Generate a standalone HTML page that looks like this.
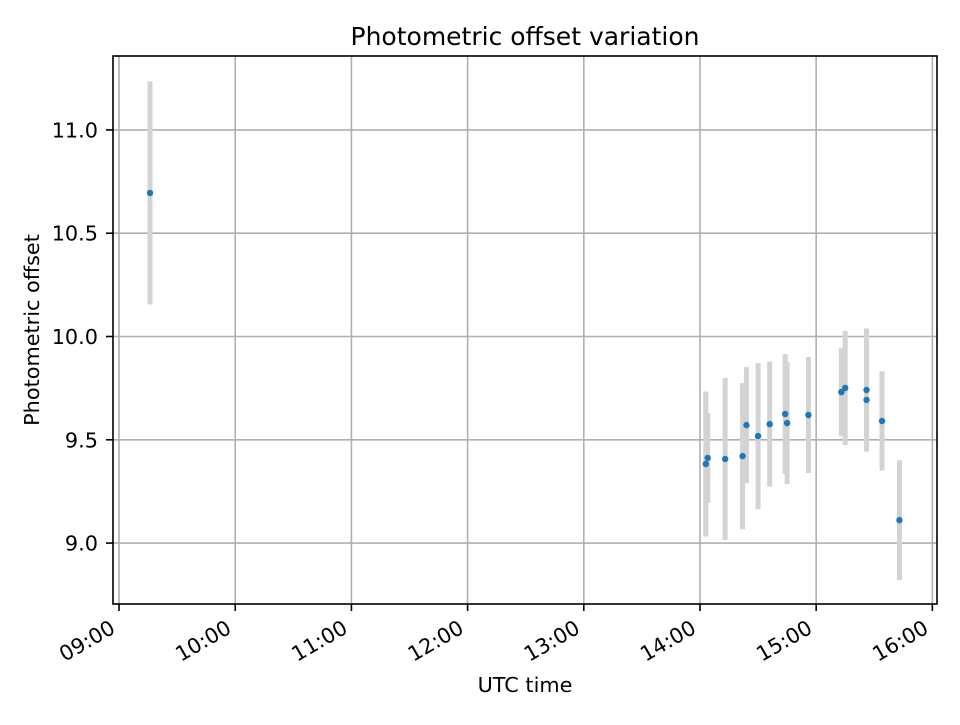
<!DOCTYPE html>
<html><head><meta charset="utf-8"><style>
body{margin:0;background:#fff}
svg text{font-family:"DejaVu Sans","Liberation Sans",sans-serif;fill:#000}
</style></head><body>
<svg id="chart" width="960" height="720" xmlns="http://www.w3.org/2000/svg">
<text x="525" y="45" text-anchor="middle" font-size="25">Photometric offset variation</text>
<text x="525" y="692" text-anchor="middle" font-size="20.8">UTC time</text>
<text transform="translate(39,330) rotate(-90)" text-anchor="middle" font-size="20.8">Photometric offset</text>
<g id="grid"></g><g id="bars"></g><g id="pts"></g><g id="axes"></g>
</svg>
<script>
const times=["09:16","14:03","14:04","14:13","14:22","14:24","14:30","14:36","14:44","14:45","14:56","15:13","15:15","15:26","15:26","15:34","15:43"];
const values=[10.695,9.383,9.412,9.407,9.421,9.571,9.518,9.576,9.625,9.581,9.620,9.731,9.751,9.741,9.693,9.591,9.111];
const errors=[0.54,0.351,0.218,0.392,0.354,0.281,0.354,0.303,0.29,0.295,0.281,0.213,0.276,0.298,0.223,0.24,0.29];
const xTicks=["09:00","10:00","11:00","12:00","13:00","14:00","15:00","16:00"];
const yTicks=[9.0,9.5,10.0,10.5,11.0];
const L=113,R=937,T=56,B=604,x0=8.948,x1=16.04,y0=8.705,y1=11.358;
const NS="http://www.w3.org/2000/svg";
function h(s){const p=s.split(":");return +p[0]+ +p[1]/60;}
function X(t){return L+(t-x0)/(x1-x0)*(R-L);}
function Y(v){return B-(v-y0)/(y1-y0)*(B-T);}
function mk(tag,at,parent){const e=document.createElementNS(NS,tag);for(const k in at)e.setAttribute(k,at[k]);document.getElementById(parent).appendChild(e);return e;}
xTicks.forEach(s=>{const x=X(h(s));
 let g=mk("line",{x1:x,x2:x,y1:T,y2:B,stroke:"#b0b0b0","stroke-width":1.6},"grid");
 
 
 mk("line",{x1:x,x2:x,y1:B,y2:B+7,stroke:"#000","stroke-width":1.6},"axes");
 const px=x-2.5,py=632;
 let t=mk("text",{x:px,y:py,"text-anchor":"end","font-size":20.8,transform:`rotate(-30 ${px} ${py})`},"axes");
 t.textContent=s;
 
 
});
yTicks.forEach(v=>{const y=Y(v);
 let g=mk("line",{x1:L,x2:R,y1:y,y2:y,stroke:"#b0b0b0","stroke-width":1.6},"grid");
 
 
 mk("line",{x1:L-7,x2:L,y1:y,y2:y,stroke:"#000","stroke-width":1.6},"axes");
 let t=mk("text",{x:L-15,y:y+7.5,"text-anchor":"end","font-size":20.8},"axes");
 t.textContent=v.toFixed(1);
 
 
});
let fr=mk("rect",{x:L,y:T,width:R-L,height:B-T,fill:"none",stroke:"#000","stroke-width":1.6},"axes");


times.forEach((s,i)=>{const x=X(h(s));
 let b=mk("line",{x1:x,x2:x,y1:Y(values[i]+errors[i]),y2:Y(values[i]-errors[i]),stroke:"#d3d3d3","stroke-width":5},"bars");
 
 
 let c=mk("circle",{cx:x,cy:Y(values[i]),r:3.2,fill:"#1f77b4"},"pts");
 
 
});
</script>
</body></html>
